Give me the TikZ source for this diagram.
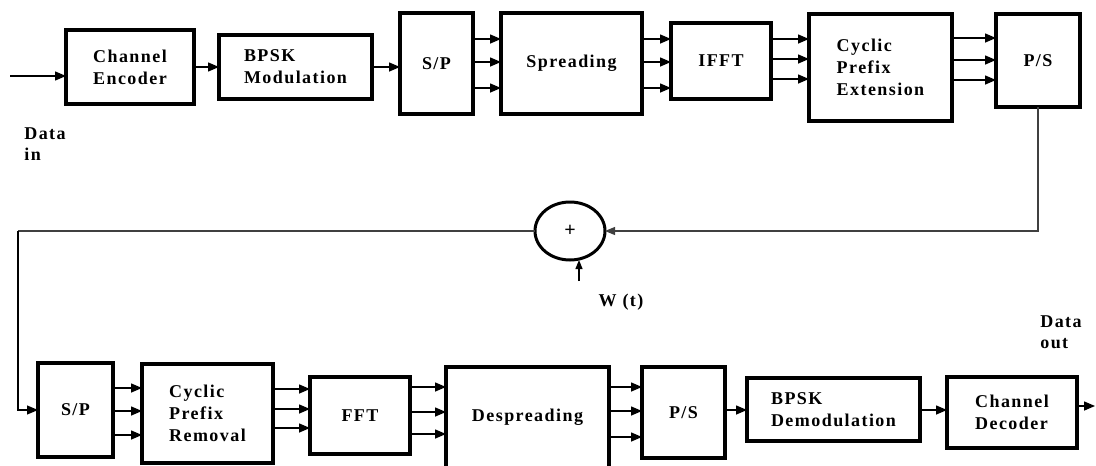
\documentclass[tikz,border=0pt]{standalone}
\usepackage{fontspec}
\setmainfont{Liberation Serif}[LetterSpace=8]
\usetikzlibrary{arrows.meta,shapes.geometric}
\tikzset{
  blk/.style={draw, line width=3.4pt, rectangle, outer sep=0pt, align=left,
    font=\fontsize{18}{22}\selectfont\bfseries},
  lbl/.style={align=left, font=\fontsize{18}{21}\selectfont\bfseries},
  arr/.style={line width=1.5pt, -{Triangle[length=11pt,width=9pt]}},
  wire/.style={line width=1.1pt, draw=black!75},
  warr/.style={wire, -{Triangle[length=10pt,width=8pt]}},
  adderst/.style={draw, ellipse, line width=3pt, minimum width=70pt, minimum height=58pt, outer sep=0pt,
    font=\fontsize{20}{20}\selectfont\bfseries}
}
\begin{document}
\begin{tikzpicture}[x=1pt,y=-1pt]
\useasboundingbox (0,0) rectangle (1096,466);
% top row
\node[blk, minimum width=128pt, minimum height=74pt] (enc) at (130,67) {Channel\\Encoder};
\node[blk, minimum width=153pt, minimum height=64pt] (bpsk) at (295.5,67) {BPSK\\Modulation};
\node[blk, minimum width=73pt, minimum height=101pt] (sp1) at (436.5,63.5) {S/P};
\node[blk, minimum width=141pt, minimum height=101pt] (spr) at (571.5,63.5) {Spreading};
\node[blk, minimum width=100pt, minimum height=76pt] (ifft) at (721,61) {IFFT};
\node[blk, minimum width=143pt, minimum height=107pt] (cpe) at (880.5,67.5) {Cyclic\\Prefix\\Extension};
\node[blk, minimum width=84pt, minimum height=93pt] (ps1) at (1038,60.5) {P/S};
\node[lbl] (din) at (45,144) {Data\\in};
\coordinate (inp) at (10,76);
% adder
\node[adderst] (adder) at (570,231) {+};
\node[lbl] (w) at (621,302) {W (t)};
\coordinate (wt) at (579,281);
\coordinate (turn) at (18,231);
% bottom row
\node[blk, minimum width=75pt, minimum height=94pt] (sp2) at (75.5,410) {S/P};
\node[blk, minimum width=131pt, minimum height=99pt] (cpr) at (207.5,413.5) {Cyclic\\Prefix\\Removal};
\node[blk, minimum width=100pt, minimum height=77pt] (fft) at (360,415.5) {FFT};
\node[blk, minimum width=163pt, minimum height=101pt] (desp) at (527.5,417.5) {Despreading};
\node[blk, minimum width=83pt, minimum height=91pt] (ps2) at (683.5,412.5) {P/S};
\node[blk, minimum width=173pt, minimum height=63pt] (dem) at (833.5,409.5) {BPSK\\Demodulation};
\node[blk, minimum width=130pt, minimum height=71pt] (dec) at (1012,412.5) {Channel\\Decoder};
\node[lbl] (dout) at (1061,332) {Data\\out};
\coordinate (outp) at (1095,406);
% top connectors
\draw[arr] (inp) -- (enc.west |- inp);
\draw[arr] (enc.east) -- (bpsk.west);
\draw[arr] (bpsk.east) -- (sp1.west |- bpsk.east);
\foreach \yy in {39,62,88} {
  \draw[arr] (sp1.east |- 0,\yy) -- (spr.west |- 0,\yy);
  \draw[arr] (spr.east |- 0,\yy) -- (ifft.west |- 0,\yy);
}
\foreach \yy in {39,59,79} {
  \draw[arr] (ifft.east |- 0,\yy) -- (cpe.west |- 0,\yy);
}
\foreach \yy in {38,60,80} {
  \draw[arr] (cpe.east |- 0,\yy) -- (ps1.west |- 0,\yy);
}
% feedback
\draw[warr] (ps1.south) |- (adder.east);
\draw[arr, line width=1.2pt, -{Triangle[length=9pt,width=7pt]}] (wt) -- (wt |- adder.south);
\draw[wire] (adder.west) -- (turn);
\draw[arr, line width=1.1pt] (turn) |- (sp2.west);
% bottom connectors
\foreach \yy in {388,411,435} {
  \draw[arr] (sp2.east |- 0,\yy) -- (cpr.west |- 0,\yy);
}
\foreach \yy in {389,409,428} {
  \draw[arr] (cpr.east |- 0,\yy) -- (fft.west |- 0,\yy);
}
\foreach \yy in {387,412,434} {
  \draw[arr] (fft.east |- 0,\yy) -- (desp.west |- 0,\yy);
}
\foreach \yy in {387,411,437} {
  \draw[arr] (desp.east |- 0,\yy) -- (ps2.west |- 0,\yy);
}
\draw[arr] (ps2.east |- 0,410) -- (dem.west |- 0,410);
\draw[arr] (dem.east |- 0,410) -- (dec.west |- 0,410);
\draw[arr] (dec.east |- outp) -- (outp);
\end{tikzpicture}
\end{document}
